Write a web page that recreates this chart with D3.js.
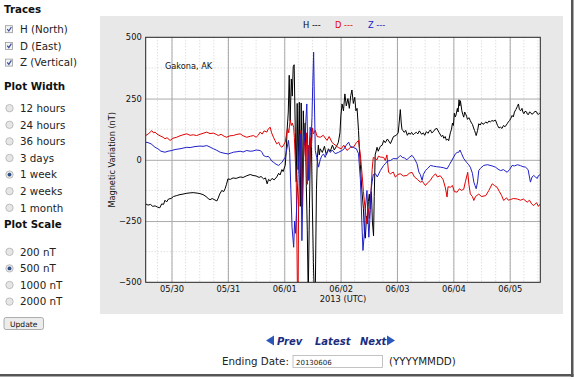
<!DOCTYPE html>
<html><head><meta charset="utf-8">
<script src="https://cdn.jsdelivr.net/npm/d3@7"></script>
<style>
body{margin:0;background:#fff;}
svg{display:block;}
text{font-family:"DejaVu Sans",Verdana,sans-serif;}
</style></head>
<body><svg id="c" width="574" height="379"></svg>
<script>
// ---- data (hours since 2013-05-29 13:00 UTC, values in nT) ----
const startTime = "2013-05-29T13:00:00Z";
const spanHours = 168;
const hHours = [0,1,2,3,4,5,6,6.8,7.6,8.2,8.9,9.7,10.8,11.8,13.2,14.6,15.9,17.2,18.9,20.2,21.9,23.1,24.4,25.7,26.6,27.4,28.3,29.1,30.3,30.8,31.5,32.4,33.2,33.8,34.4,35,36,37.2,38.5,40.2,41.5,42.8,44.5,45.7,47,48.3,49.1,50.2,51,51.7,52.3,53,53.8,54.7,55.8,56.6,57.2,58,58.5,59.4,
 59.8,60.2,60.7,61.1,61.5,62,62.4,62.8,63.2,63.7,64.1,64.5,64.9,65.4,65.8,66.2,66.7,67.1,67.5,67.9,68.4,68.8,69.2,69.7,70.1,70.5,70.9,71.4,71.8,72.2,72.7,73.1,73.5,73.9,74.3,
 75.2,76.1,76.9,77.8,78.6,79.5,80.3,81.2,82,82.7,83.1,83.6,84.2,84.8,85.4,86.1,86.7,87.3,87.8,88.4,89,89.5,90,90.6,91,91.4,92,92.7,93.1,93.5,94,94.4,94.8,95.2,95.6,96.1,96.5,97,97.3,97.7,98.5,99,99.9,100.7,101.3,102,102.9,104.2,105.5,106.7,
 107.5,107.9,108.4,108.8,109.1,109.6,110.1,110.7,111.4,112,
 112.6,113.2,113.9,114.5,115.2,115.9,116.5,116.9,117.5,118.2,
 118.8,119.5,120.2,120.8,121.2,121.8,122.5,123.2,124,124.5,
 125,125.9,126.5,126.9,127.5,128,128.5,129,129.7,130.2,
 130.6,131,131.4,131.8,132.1,132.7,133,133.4,133.7,134,
 134.6,135,135.4,135.8,136.1,136.6,137,137.6,138.2,138.7,
 139.1,139.6,140,140.4,140.7,141.3,141.8,142.4,143,143.6,
 144.2,144.8,145.4,146.1,146.8,147.4,148.1,148.9,149.4,149.8,
 150.4,151.1,151.7,152.3,153,153.9,154.4,154.9,155.5,156,
 156.5,157,157.6,158.2,158.7,159.1,159.6,160.2,160.6,161,
 161.5,162.1,162.5,163,163.4,163.8,164.4,165.1,165.7,166.4,
 166.8,167.2,167.6,168];
const hValues = [-180,-185,-182,-190,-188,-193,-196,-180,-182,-165,-172,-160,-158,-150,-146,-142,-140,-137,-135,-134,-136,-138,-142,-150,-158,-163,-158,-162,-168,-158,-140,-125,-130,-118,-100,-78,-80,-74,-76,-70,-72,-66,-60,-64,-66,-72,-68,-78,-74,-98,-80,-86,-76,-82,-70,-55,-62,-40,-48,-22,
 30,120,195,345,160,330,260,380,388,110,-90,230,-40,235,-190,232,-140,200,60,150,-110,-290,-560,-200,40,110,-160,-420,-560,-540,-120,10,60,20,45,
 30,55,20,45,35,60,40,55,70,110,180,228,200,269,220,250,210,262,285,230,255,200,210,120,40,-20,-120,-200,-290,-320,-230,-260,-170,-140,-200,-130,-250,-310,-150,20,51,35,55,60,79,70,85,66,95,100,
 110,150,205,150,125,118,112,120,100,110,
 104,112,102,108,112,106,118,113,104,110,
 100,115,108,118,122,110,115,125,128,118,
 110,95,100,88,95,80,85,78,110,125,
 150,140,190,175,182,210,195,245,220,241,
 200,185,174,195,190,178,165,172,160,150,
 145,130,120,108,99,120,147,142,152,145,
 148,155,149,158,155,160,158,162,150,140,
 130,133,128,140,135,147,155,160,170,181,
 175,195,205,217,228,205,200,210,195,188,
 198,196,186,185,195,194,186,190,198,196,
 187,185,190,188];

const dHours = [0,1,2.6,3.3,4,4.8,6.1,7.4,8.2,9.1,10.4,11.6,13.2,14.6,15.9,17.5,18.9,20.2,21.7,23.1,24.4,26,27.4,28.8,30,30.9,32.1,33.4,34.5,35.9,37.3,38.5,40.2,41.5,43,44.5,45.9,47,47.9,48.7,49.6,50.4,51.6,52.1,53,53.6,54.4,55.1,55.8,56.6,57.2,58,58.7,59.4,
 59.8,60.4,60.9,61.5,62,62.4,63,63.3,63.7,64.1,64.6,64.9,65.1,65.6,66.1,66.6,67,67.6,68,68.4,68.8,69.2,69.7,70.1,70.5,71,71.4,72.2,73,74.3,75.6,77.2,78.1,79.4,80.7,82,83.3,84.3,85.7,87.1,88.5,89.7,90.6,91.4,92.1,92.7,93.3,94.2,94.8,95.2,95.6,96.4,96.9,97.8,98.5,99.1,99.9,101.3,102,102.7,
 103.4,104.2,105.4,106.3,107.3,108.4,109.7,111.2,112.2,113.4,114.4,115.7,116.9,117.8,119.1,119.9,121.2,122.1,123.4,124.2,125.4,126.6,127.6,128.3,128.7,129.7,130.6,131.4,132.6,133.6,134.4,135.4,136.1,137.1,137.6,138.2,139.1,139.7,140.4,141.8,143,144.8,146.1,147.5,148.5,149.6,150.6,151.5,152.4,153.6,154.4,155.3,156.6,158.2,159.6,160.8,162.4,163.4,164.3,165.2,166.4,167.2,168];
const dValues = [99,105,119,110,113,105,98,92,86,90,79,88,92,98,102,106,100,102,99,104,108,113,107,109,104,99,104,96,92,98,99,103,106,98,92,96,99,92,100,113,105,118,113,125,133,110,92,78,65,72,58,51,60,72,
 95,130,110,163,140,150,133,90,0,-80,-540,-540,-152,-60,120,-193,-50,80,20,110,-100,60,-80,90,50,130,106,120,95,92,100,79,95,70,60,50,45,60,38,50,52,70,79,20,-57,-130,-190,-261,-200,-240,-193,-40,10,5,0,15,11,10,-3,20,
 -51,-57,-50,-71,-60,-57,-66,-64,-55,-51,-70,-80,-91,-88,-105,-95,-84,-70,-57,-70,-65,-80,-115,-152,-110,-112,-105,-130,-132,-118,-125,-120,-90,-51,-100,-139,-150,-166,-150,-140,-150,-146,-125,-98,-105,-112,-130,-145,-166,-155,-165,-162,-158,-160,-165,-160,-173,-165,-180,-187,-175,-190,-180];

const zHours = [0,1,2.3,4,5.2,6.5,8.2,9.5,11.1,12.5,14.6,17.5,18.9,21,23.1,24.4,26,27.4,28.8,30,31.7,32.9,33.8,35.2,36.4,37.3,38.9,40.2,41.5,43,44.5,45.7,47,48.7,49.6,50.1,50.9,51.6,52.1,53,53.6,54.4,55.5,56.6,57.2,58,58.7,59.4,
 60,60.8,61.3,61.8,62.3,63,63.4,63.8,64.4,64.9,65.4,65.8,66.2,66.5,66.9,67.3,68,68.6,69,69.3,69.7,70,70.5,70.8,71.1,71.5,71.8,72.2,72.8,73.6,74.3,74.9,75.7,76.4,77.2,77.8,78.6,79.4,80.7,82,83.6,84.5,85.4,86.4,87.1,88.5,89.7,90.6,91.4,92.1,92.5,93.1,93.5,94.2,94.6,95,95.4,95.9,96.4,96.9,97.8,98.6,99.9,101.3,102,102.9,
 104.2,105.4,107,107.8,108.4,109.2,110.1,111.2,112.2,113.4,114.4,115.5,116.3,116.9,117.7,118.2,119.1,120.1,121.2,122.5,123.8,125.4,126.7,128.3,129.3,130.2,131.1,131.9,132.6,133.3,133.8,134.5,135.4,136.6,137.5,138.2,139.1,139.7,140.2,140.7,141.3,141.8,142.5,143.9,145.5,147.5,148.9,150,151.1,152.3,153.9,154.9,156,157,158.3,159.6,160.6,161.7,162.8,163.8,164.5,165.2,165.9,166.7,167.2,168];
const zValues = [72,70,65,51,45,35,31,35,38,42,45,51,50,54,56,55,58,52,45,40,31,28,26,24,28,31,33,35,32,38,35,36,40,38,30,18,14,12,15,5,-5,-10,-18,-23,-18,-10,0,11,
 40,79,30,-120,-275,-357,-250,-300,-166,-60,80,106,-80,-330,-150,60,130,228,40,-84,60,133,100,173,300,439,250,38,10,-30,0,15,24,10,30,38,30,40,25,30,38,45,60,72,55,50,45,25,-80,-275,-370,-300,-200,-125,-230,-316,-250,-130,-90,-60,-57,-70,-44,-23,-16,-5,
 -3,5,4,12,18,10,8,0,10,18,5,-16,-50,-60,-84,-60,-44,-35,-23,-26,-28,-30,-32,-37,-20,-5,11,25,30,31,40,25,5,-10,-20,-30,-55,-91,-105,-118,-90,-44,-35,-23,-20,-25,-30,-38,-44,-40,-51,-40,-23,-25,-20,-24,-28,-30,-40,-91,-70,-64,-70,-76,-65,-60];

const yTicks = [-500,-250,0,250,500];
const traceLabels = ["H (North)","D (East)","Z (Vertical)"];
const widthLabels = ["12 hours","24 hours","36 hours","3 days","1 week","2 weeks","1 month"];
const scaleLabels = ["200 nT","500 nT","1000 nT","2000 nT"];
const legendNames = ["H","D","Z"];
const colors = ["#000000","#e00000","#2020c8"];

// ---- drawing ----
const svg = d3.select("#c");
const t0 = new Date(startTime);
const toDate = h => new Date(t0.getTime() + h*3600e3);

// panel
svg.append("rect").attr("x",100).attr("y",16).attr("width",463).attr("height",298).attr("fill","#e8e8e8");
// page shadow frame
svg.append("rect").attr("x",571).attr("y",0).attr("width",2.5).attr("height",377).attr("fill","#555");
svg.append("rect").attr("x",0).attr("y",374).attr("width",573.5).attr("height",2.5).attr("fill","#555");

const L=145.7, R=540.3, T=37.3, B=282.3;
const x = d3.scaleUtc().domain([t0, toDate(spanHours)]).range([L,R]);
const y = d3.scaleLinear().domain([-500,500]).range([B,T]);

svg.append("rect").attr("x",L).attr("y",T).attr("width",R-L).attr("height",B-T).attr("fill","#fff");

// minor grid
const minorX = d3.utcHour.every(6).range(t0, toDate(spanHours));
svg.append("g").selectAll("line").data(minorX).join("line")
  .attr("x1",d=>x(d)).attr("x2",d=>x(d)).attr("y1",T).attr("y2",B)
  .attr("stroke","#c8c8c8").attr("stroke-dasharray","1,2").attr("stroke-width",0.8);
const minorY = d3.range(-375,500,250);
svg.append("g").selectAll("line").data(minorY).join("line")
  .attr("x1",L).attr("x2",R).attr("y1",d=>y(d)).attr("y2",d=>y(d))
  .attr("stroke","#c8c8c8").attr("stroke-dasharray","1,2").attr("stroke-width",0.8);

// major grid via axes
const gx = svg.append("g").attr("transform",`translate(0,${B})`)
  .call(d3.axisBottom(x).ticks(d3.utcDay.every(1)).tickFormat(d3.utcFormat("%m/%d")).tickSize(-(B-T)).tickPadding(4));
gx.select(".domain").remove();
gx.selectAll(".tick line").attr("stroke","#aaa");
gx.selectAll(".tick text").attr("font-size","8.3px").attr("fill","#111").attr("font-family","DejaVu Sans");

const gy = svg.append("g").attr("transform",`translate(${L},0)`)
  .call(d3.axisLeft(y).tickValues(yTicks).tickFormat(d=>d<0?"\u2212"+Math.abs(d):d).tickSize(-(R-L)).tickPadding(4));
gy.select(".domain").remove();
gy.selectAll(".tick line").attr("stroke",d=>(d===500||d===-500)?"none":"#aaa");
gy.selectAll(".tick text").attr("font-size","8.3px").attr("fill","#111").attr("font-family","DejaVu Sans");

// series
svg.append("clipPath").attr("id","clip").append("rect").attr("x",L).attr("y",T).attr("width",R-L).attr("height",B-T);
const line = d3.line().x(d=>x(toDate(d[0]))).y(d=>y(d[1]));
const series = [[hHours,hValues],[dHours,dValues],[zHours,zValues]];
series.forEach((s,i)=>{
  const pts = s[0].map((h,j)=>[h,s[1][j]]);
  svg.append("path").attr("clip-path","url(#clip)").attr("d",line(pts))
    .attr("fill","none").attr("stroke",colors[i]).attr("stroke-width",1).attr("stroke-linejoin","round");
});

// frame
svg.append("rect").attr("x",L).attr("y",T).attr("width",R-L).attr("height",B-T).attr("fill","none").attr("stroke","#222").attr("stroke-width",1);

// labels
svg.append("text").attr("x",165).attr("y",69).attr("font-size","8.2px").attr("fill","#111").text("Gakona, AK");
svg.append("text").attr("transform",`translate(115,${(T+B)/2}) rotate(-90)`).attr("text-anchor","middle")
  .attr("font-size","8.2px").attr("fill","#111").text("Magnetic Variation (nT)");
svg.append("text").attr("x",(L+R)/2).attr("y",301.5).attr("text-anchor","middle").attr("font-size","8.3px").attr("fill","#111").text("2013 (UTC)");
const legX = [303,335,368];
legendNames.forEach((n,i)=>{
  svg.append("text").attr("x",legX[i]).attr("y",27.5).attr("font-size","8.3px").attr("fill",colors[i]).text(n+" ---");
});

// left form
const form = svg.append("g");
function heading(txt,yb){ form.append("text").attr("x",4).attr("y",yb).attr("font-weight","bold").attr("font-size","10.3px").attr("fill","#111").text(txt); }
function label(txt,yb){ form.append("text").attr("x",20).attr("y",yb).attr("font-size","10.3px").attr("fill","#222").text(txt); }
heading("Traces",12.8);
traceLabels.forEach((t,i)=>{
  const yb = 33 + i*16.7;
  form.append("rect").attr("x",5.5).attr("y",yb-7.3).attr("width",7).attr("height",7).attr("fill","#f4f4f4").attr("stroke","#9a9a9a").attr("stroke-width",0.8);
  form.append("path").attr("d",`M7.2,${yb-4} L8.8,${yb-2} L11.4,${yb-6}`).attr("fill","none").attr("stroke","#3a4fa0").attr("stroke-width",1.2);
  label(t,yb);
});
function radio(yb,sel){
  const cy = yb-3.8;
  form.append("circle").attr("cx",9.5).attr("cy",cy).attr("r",3.7).attr("fill","#e6e6e6").attr("stroke","#b0b0b0").attr("stroke-width",0.8);
  if(sel){ form.append("circle").attr("cx",9.5).attr("cy",cy).attr("r",1.9).attr("fill","#2f4f86"); }
}
heading("Plot Width",89.5);
widthLabels.forEach((t,i)=>{ const yb=112+i*16.6; radio(yb,t==="1 week"); label(t,yb); });
heading("Plot Scale",228.3);
scaleLabels.forEach((t,i)=>{ const yb=255.6+i*16.6; radio(yb,t==="500 nT"); label(t,yb); });
form.append("rect").attr("x",4).attr("y",317.5).attr("width",39.5).attr("height",12).attr("rx",2).attr("fill","#ececec").attr("stroke","#9a9a9a").attr("stroke-width",0.8);
form.append("text").attr("x",23.7).attr("y",326.5).attr("text-anchor","middle").attr("font-size","7.6px").attr("fill","#111").text("Update");

// nav
const navStyle = s => s.attr("font-weight","bold").attr("font-style","italic").attr("font-size","10px").attr("fill","#1c2d80").attr("font-family","Liberation Sans");
svg.append("path").attr("d","M266,340.5 L274,335.5 L274,345.5 Z").attr("fill","#2b57b8");
navStyle(svg.append("text").attr("x",277).attr("y",344.5)).text("Prev");
navStyle(svg.append("text").attr("x",315).attr("y",344.5)).text("Latest");
navStyle(svg.append("text").attr("x",360).attr("y",344.5)).text("Next");
svg.append("path").attr("d","M395,340.5 L387,335.5 L387,345.5 Z").attr("fill","#2b57b8");

svg.append("text").attr("x",222).attr("y",365).attr("font-size","10.3px").attr("fill","#222").text("Ending Date:");
svg.append("rect").attr("x",293).attr("y",355.5).attr("width",89.5).attr("height",12).attr("fill","#fff").attr("stroke","#b5b5b5").attr("stroke-width",0.8);
svg.append("text").attr("x",296).attr("y",364.5).attr("font-size","7px").attr("fill","#222").text("20130606");
svg.append("text").attr("x",389).attr("y",365).attr("font-size","10.3px").attr("fill","#222").text("(YYYYMMDD)");
</script></body></html>
